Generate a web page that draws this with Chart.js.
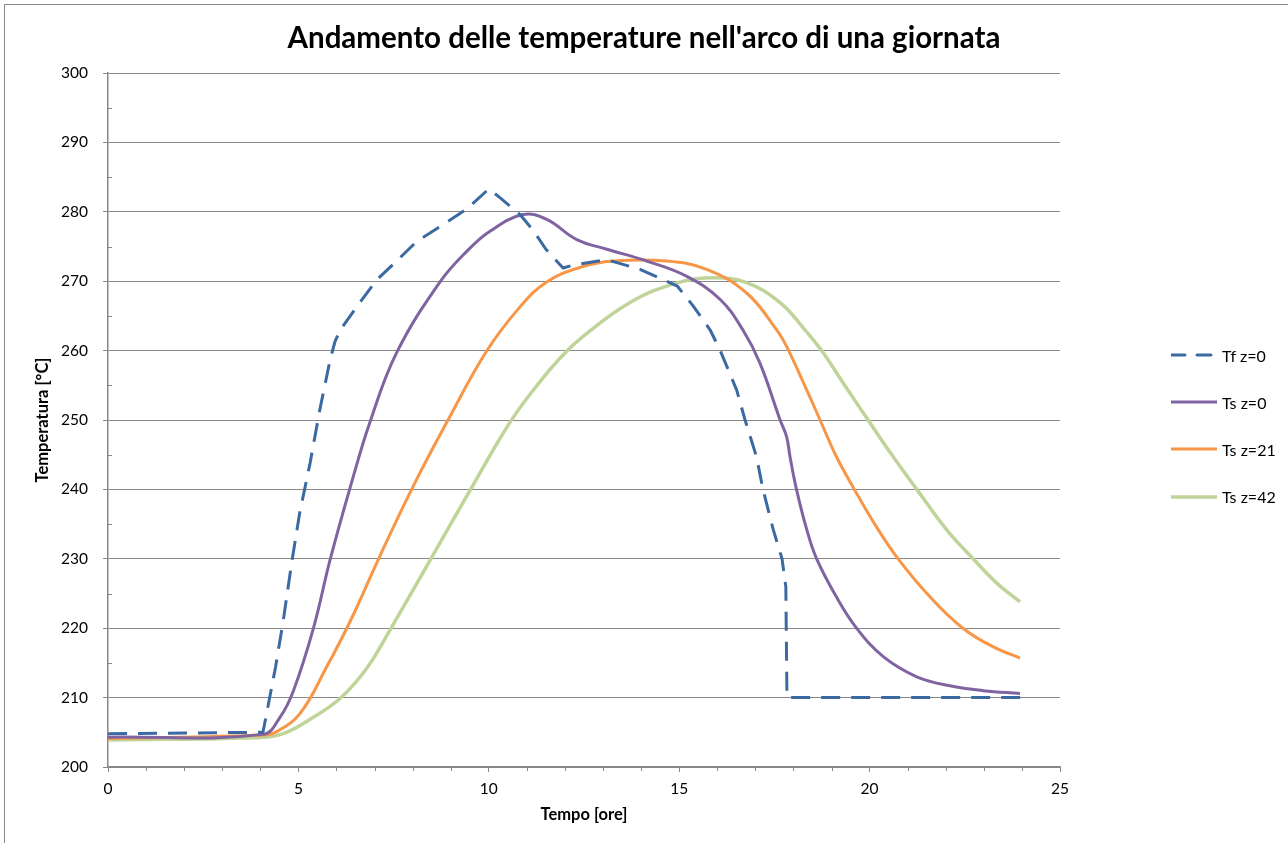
<!DOCTYPE html>
<html lang="it">
<head>
<meta charset="utf-8">
<title>Andamento delle temperature</title>
<script src="https://cdn.jsdelivr.net/npm/chart.js@4.4.1/dist/chart.umd.min.js"></script>
<style>
  html, body { margin: 0; padding: 0; background: #fff; overflow: hidden; }
  #frame { position: absolute; left: 4px; top: 4px; width: 2000px; height: 2000px;
           border-left: 1px solid #8a8a8a; border-top: 1px solid #8a8a8a; }
  #wrap { position: absolute; left: 0; top: 0; width: 1288px; height: 843px; }
  #legend { position: absolute; left: 1171px; top: 0; font-family: Lato, sans-serif; font-size: 16px; color: #000; }
  .row { position: absolute; left: 0; height: 20px; display: flex; align-items: center; white-space: nowrap; }
  .row svg { margin-right: 5px; }
</style>
</head>
<body>
<div id="frame"></div>
<div id="wrap"><canvas id="chart" width="1288" height="843"></canvas></div>
<div id="legend"></div>
<script>
// Temperature nell'arco di una giornata

const titolo = "Andamento delle temperature nell'arco di una giornata";
const nomiSerie = ['Tf z=0', 'Ts z=0', 'Ts z=21', 'Ts z=42'];
const coloriSerie = ['#3b6aa3', '#8064a2', '#f79646', '#c0d49a'];

// Tf z=0 (fluido)
const tfOre = [0, 4.07, 4.4, 4.6, 4.82, 5.03, 5.3, 5.56, 5.83, 5.96, 6.1, 6.53, 7.06, 7.58, 8.1, 8.9, 9.42,
  10.0, 10.3, 10.82, 11.17, 11.5, 11.95, 12.2, 13.1, 13.97, 14.95, 15.37, 15.81, 16.07, 16.51, 16.73,
  17.03, 17.2, 17.47, 17.7, 17.8, 17.83, 24];
const tfTemp = [204.8, 205.0, 214.4, 221, 229.3, 236.5, 243.6, 251.4, 258.6, 261.3, 263, 266.3, 270.2, 272.9, 275.7, 278.5, 280.4,
  283.3, 282, 279.6, 277.3, 274.6, 271.9, 272.3, 273.1, 271.7, 269.3, 266.4, 263, 260.1, 254.3, 250,
  244.7, 240, 234.2, 230, 226, 210, 210];

// Ts z=0
const ts0Ore = [0, 4.07, 4.52, 4.87, 5.39, 5.83, 6.36, 6.88, 7.58, 8.72, 9.42, 10.03, 10.9, 11.52, 12.31, 13.1,
  14.15, 15.2, 16.07, 16.67, 17.12, 17.65, 17.82, 17.91, 18.08, 18.35, 18.61, 19.13, 19.66, 20.36, 21.24,
  22.11, 22.99, 23.95];
const ts0Temp = [204.3, 204.7, 207.2, 211, 219.9, 229.8, 240.3, 249.7, 259.7, 269.9, 274.3, 277.2, 279.6, 278.9, 276, 274.6,
  272.9, 270.7, 267.4, 263, 258.2, 250, 247.6, 244.7, 240, 234.2, 230, 224.5, 220, 215.9, 213,
  211.7, 211, 210.6];

// Ts z=21
const ts21Ore = [0, 4.1, 4.4, 5.04, 5.74, 6.36, 7.14, 8.0, 8.9, 9.94, 10.82, 11.52, 12.4, 13.27, 14.67, 15.72,
  16.77, 17.56, 17.82, 18.35, 18.7, 19.13, 19.6, 20.18, 20.75, 21.59, 22.45, 23.25, 23.95];
const ts21Temp = [204.1, 204.6, 205, 207.7, 214.4, 221, 230.4, 240.3, 249.7, 259.9, 266.3, 269.9, 272.0, 272.9, 272.9, 271.7,
  268.3, 263, 260.6, 254.3, 250, 244.7, 240, 234.6, 230, 224.5, 220, 217.3, 215.7];

// Ts z=42
const ts42Ore = [0, 4.1, 4.69, 5.4, 6.1, 6.79, 7.4, 8.46, 9.5, 10.56, 11.34, 11.87, 12.4, 13.7, 14.97, 15.9,
  16.77, 17.65, 18.3, 18.74, 19.31, 19.96, 20.62, 21.24, 22.02, 22.72, 23.34, 23.95];
const ts42Temp = [203.9, 204.3, 205, 207.2, 209.9, 214.2, 219.7, 229.8, 239.8, 249.7, 255.5, 258.9, 261.7, 266.9, 269.8, 270.5,
  269.8, 266.9, 263, 260, 255.3, 250, 244.7, 240, 234.2, 230, 226.5, 223.8];

// assi
const xMin = 0, xMax = 25, xStep = 5, xMinorStep = 1;
const yMin = 200, yMax = 300, yStep = 10, yMinorStep = 5;

const griglia = '#878787';
const font = 'Lato, "Open Sans", sans-serif';

function punti(xs, ys) {
  return xs.map((x, i) => ({ x: x, y: ys[i] }));
}

// small tick marks between the labelled ones (minor ticks)
const minorTicks = {
  id: 'minorTicks',
  afterDraw(chart) {
    const ctx = chart.ctx;
    const xs = chart.scales.x, ys = chart.scales.y;
    ctx.save();
    ctx.strokeStyle = griglia;
    ctx.lineWidth = 1;
    ctx.beginPath();
    for (let v = yMin; v <= yMax; v += yMinorStep) {
      if (v % yStep === 0) continue;
      const py = Math.round(ys.getPixelForValue(v)) + 0.5;
      ctx.moveTo(xs.left, py);
      ctx.lineTo(xs.left + 4, py);
    }
    for (let v = xMin; v <= xMax; v += xMinorStep) {
      if (v % xStep === 0) continue;
      const px = Math.round(xs.getPixelForValue(v)) + 0.5;
      ctx.moveTo(px, ys.bottom);
      ctx.lineTo(px, ys.bottom + 4);
    }
    ctx.stroke();
    ctx.restore();
  }
};

const datasets = [
  { label: nomiSerie[0], data: punti(tfOre, tfTemp), borderColor: coloriSerie[0], borderWidth: 3,
    borderDash: [19, 11], tension: 0 },
  { label: nomiSerie[1], data: punti(ts0Ore, ts0Temp), borderColor: coloriSerie[1], borderWidth: 3, tension: 0.4 },
  { label: nomiSerie[2], data: punti(ts21Ore, ts21Temp), borderColor: coloriSerie[2], borderWidth: 3, tension: 0.4 },
  { label: nomiSerie[3], data: punti(ts42Ore, ts42Temp), borderColor: coloriSerie[3], borderWidth: 3.5, tension: 0.4 }
];

const chart = new Chart(document.getElementById('chart'), {
  type: 'line',
  data: { datasets: datasets },
  options: {
    responsive: false,
    animation: false,
    events: [],
    layout: { padding: 0 },
    elements: { point: { radius: 0 }, line: { borderCapStyle: 'butt', borderJoinStyle: 'round' } },
    plugins: {
      legend: { display: false },
      tooltip: { enabled: false },
      title: {
        display: true, text: titolo, color: '#000',
        font: { family: font, size: 29.5, weight: 'bold' },
        padding: { top: 20.8, bottom: 16.8 }
      }
    },
    scales: {
      x: {
        type: 'linear', min: xMin, max: xMax,
        ticks: { stepSize: xStep, color: '#000', font: { family: font, size: 15.5 }, padding: 8 },
        grid: { drawOnChartArea: false, color: griglia, tickLength: 5 },
        border: { color: griglia, width: 1.5 },
        title: { display: true, text: 'Tempo [ore]', color: '#000',
                 font: { family: font, size: 16.5, weight: 'bold' }, padding: { top: 0, bottom: 18 } },
        afterFit(s) { s.height = 76; }
      },
      y: {
        min: yMin, max: yMax,
        ticks: { stepSize: yStep, color: '#000', font: { family: font, size: 15.5 }, padding: 15 },
        grid: { color: griglia, tickLength: 5 },
        border: { color: griglia, width: 1.5 },
        title: { display: true, text: 'Temperatura [°C]', color: '#000',
                 font: { family: font, size: 16.5, weight: 'bold' }, padding: { top: 32.8 } },
        afterFit(s) { s.width = 108; }
      },
      // empty right-hand scale that keeps room for the legend
      spazio: {
        position: 'right', min: yMin, max: yMax,
        grid: { display: false }, border: { display: false }, ticks: { display: false },
        afterFit(s) { s.width = 228; }
      }
    }
  },
  plugins: [minorTicks]
});

// legend on the right, built from the datasets
const legend = document.getElementById('legend');
chart.data.datasets.forEach((ds, i) => {
  const row = document.createElement('div');
  row.className = 'row';
  row.style.top = (345 + i * 47.2) + 'px';
  const dash = ds.borderDash ? 'stroke-dasharray="14 12"' : '';
  row.innerHTML = '<svg width="46" height="20"><line x1="0" y1="10" x2="46" y2="10" stroke="' + ds.borderColor +
    '" stroke-width="' + ds.borderWidth + '" stroke-linecap="round" ' + dash + '/></svg><span>' + ds.label + '</span>';
  legend.appendChild(row);
});
</script>
</body>
</html>
